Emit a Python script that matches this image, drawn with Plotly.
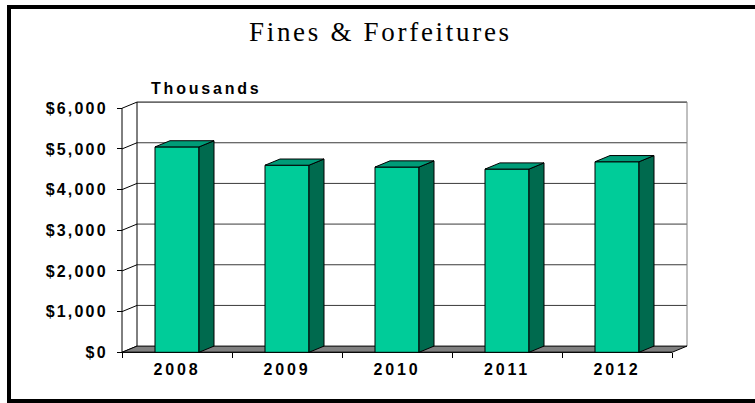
import plotly.graph_objects as go

# ---- data -------------------------------------------------------------
years = ["2008", "2009", "2010", "2011", "2012"]
revenue = [5050, 4600, 4555, 4505, 4685]          # thousands of dollars
y_ticks = [0, 1000, 2000, 3000, 4000, 5000, 6000]
y_tick_labels = ["$0", "$1,000", "$2,000", "$3,000", "$4,000", "$5,000", "$6,000"]
title_text = "Fines & Forfeitures"
unit_text = "Thousands"

# ---- geometry (pixels) -------------------------------------------------
W, H = 755, 403
FRONT_LEFT_PX = 122      # front edge of the value axis
CAT_PX = 110             # width of one category slot
ZERO_PX = 352.3          # vertical pixel of value 0 on the front plane
PX_PER_UNIT = 0.04067    # vertical pixels per thousand-dollar unit
DEPTH_X_PX = 15          # oblique depth of the 3-D box
DEPTH_Y_PX = 6.2

x_range = [-0.5 - FRONT_LEFT_PX / CAT_PX, -0.5 + (W - FRONT_LEFT_PX) / CAT_PX]
y_range = [-(H - ZERO_PX) / PX_PER_UNIT, ZERO_PX / PX_PER_UNIT]
DX = DEPTH_X_PX / CAT_PX
DY = DEPTH_Y_PX / PX_PER_UNIT
BAR_W = 0.4
N = len(years)
X_LO, X_HI = -0.5, N - 0.5
Y_TOP = y_ticks[-1]

FRONT = "#00CC99"
TOP = "#009C78"
SIDE = "#006A4E"
LABEL_FONT = dict(family="Liberation Sans", size=16, weight="bold", color="black")


def spaced(s, px):
    return f"<span style='letter-spacing:{px}px'>{s}</span>"


fig = go.Figure()

# front faces of the columns
fig.add_trace(go.Bar(
    x=list(range(N)), y=revenue, width=BAR_W,
    marker=dict(color=FRONT, line=dict(color="black", width=1)),
    hoverinfo="skip",
))

# top and side faces of the columns
top_x, top_y, side_x, side_y = [], [], [], []
for i, v in enumerate(revenue):
    l, r = i - BAR_W / 2, i + BAR_W / 2
    top_x += [l, r, r + DX, l + DX, l, None]
    top_y += [v, v, v + DY, v + DY, v, None]
    side_x += [r, r + DX, r + DX, r, r, None]
    side_y += [0, DY, v + DY, v, 0, None]
for xs, ys, col in [(side_x, side_y, SIDE), (top_x, top_y, TOP)]:
    fig.add_trace(go.Scatter(
        x=xs, y=ys, mode="lines", fill="toself", fillcolor=col,
        line=dict(color="black", width=1), hoverinfo="skip",
    ))

shapes = []


def seg(x0, y0, x1, y1, color="black", width=1):
    shapes.append(dict(type="line", xref="x", yref="y", x0=x0, y0=y0, x1=x1, y1=y1,
                       line=dict(color=color, width=width), layer="below"))


# back wall
shapes.append(dict(type="rect", xref="x", yref="y",
                   x0=X_LO + DX, x1=X_HI + DX, y0=DY, y1=Y_TOP + DY,
                   fillcolor="white", line=dict(width=0), layer="below"))
# gridlines on the back wall and their returns on the side wall
for t in y_ticks:
    if 0 < t < Y_TOP:
        seg(X_LO + DX, t + DY, X_HI + DX, t + DY, "#3a3a3a")
    seg(X_LO, t, X_LO + DX, t + DY)
seg(X_LO + DX, Y_TOP + DY, X_HI + DX, Y_TOP + DY)
seg(X_LO + DX, DY, X_LO + DX, Y_TOP + DY)
seg(X_HI + DX, DY, X_HI + DX, Y_TOP + DY, "#808080")
# floor
shapes.append(dict(type="path", xref="x", yref="y",
                   path=f"M{X_LO},0 L{X_HI},0 L{X_HI + DX},{DY} L{X_LO + DX},{DY} Z",
                   fillcolor="#808080", line=dict(color="black", width=1), layer="below"))
# front value axis and front floor edge
seg(X_LO, 0, X_LO, Y_TOP)
seg(X_LO, 0, X_HI, 0)

# outer frame
for x0, y0, x1, y1 in [(7, 7, 760, 7), (9, 7, 9, 401), (7, 401, 760, 401)]:
    shapes.append(dict(type="line", xref="paper", yref="paper",
                       x0=x0 / W, x1=x1 / W, y0=1 - y0 / H, y1=1 - y1 / H,
                       line=dict(color="black", width=4)))

annotations = [
    dict(text=spaced(title_text, 2.7), xref="paper", yref="paper",
         x=381 / W, y=1 - 32 / H, xanchor="center", yanchor="middle", showarrow=False,
         font=dict(family="Liberation Serif", size=27, color="black")),
    dict(text=spaced(unit_text, 2.8), xref="paper", yref="paper",
         x=149 / W, y=1 - 88.5 / H, xanchor="left", yanchor="middle", showarrow=False,
         font=LABEL_FONT),
]

fig.update_layout(
    width=W, height=H, margin=dict(l=0, r=0, t=0, b=0),
    paper_bgcolor="white", plot_bgcolor="white",
    showlegend=False, hovermode=False,
    shapes=shapes, annotations=annotations,
    xaxis=dict(
        range=x_range, domain=[0, 1], anchor="free", position=(H - ZERO_PX) / H,
        showline=False, zeroline=False, showgrid=False, fixedrange=True,
        tickmode="array", tickvals=list(range(N)),
        ticktext=[spaced(y, 2.8) for y in years], ticks="",
        ticklabelstandoff=6,
        tickfont=LABEL_FONT,
        minor=dict(tickmode="array", tickvals=[i - 0.5 for i in range(N + 1)],
                   ticks="outside", ticklen=5, tickcolor="black", tickwidth=1,
                   showgrid=False),
    ),
    yaxis=dict(
        range=y_range, domain=[0, 1], anchor="free", position=FRONT_LEFT_PX / W,
        showline=False, zeroline=False, showgrid=False, fixedrange=True,
        tickmode="array", tickvals=y_ticks,
        ticktext=[spaced(t, 2.2) for t in y_tick_labels],
        ticks="outside", ticklen=5, tickcolor="black", tickwidth=1,
        ticklabelstandoff=6,
        tickfont=LABEL_FONT,
    ),
)

fig.write_html("out.html")
